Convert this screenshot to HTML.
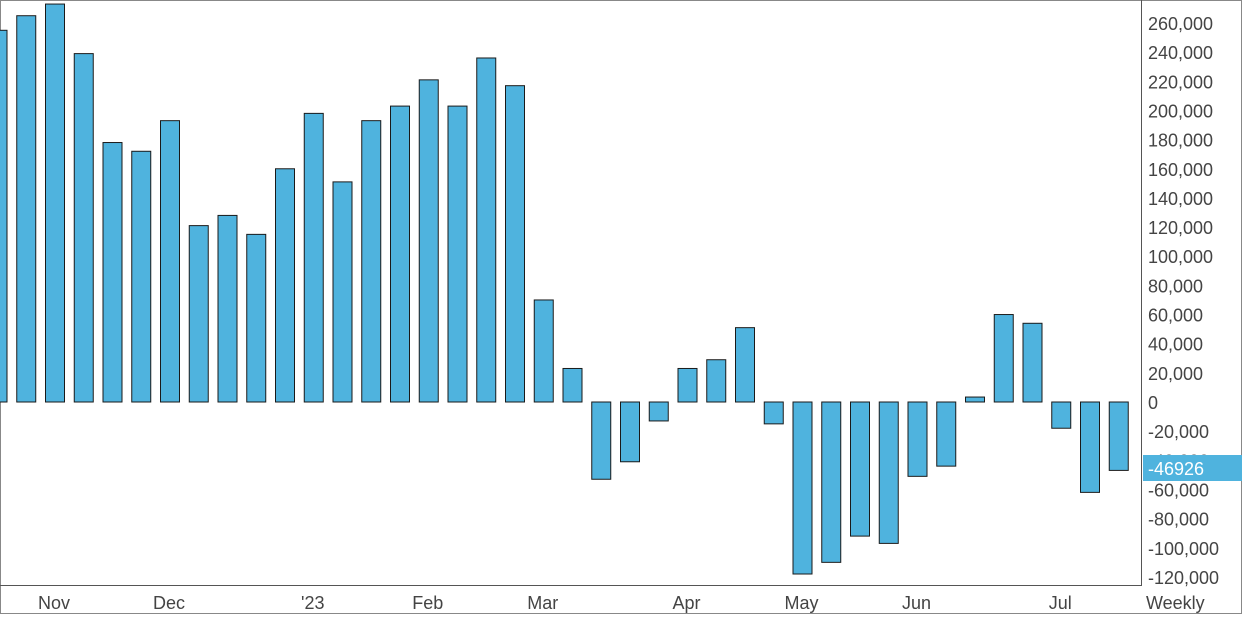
<!DOCTYPE html>
<html><head><meta charset="utf-8"><style>
body{margin:0;background:#fff;font-family:"Liberation Sans",Arial,sans-serif}
svg{display:block}
</style></head><body>
<svg id="chart" width="1242" height="629" xmlns="http://www.w3.org/2000/svg">
<rect x="0.5" y="0.5" width="1241" height="613" fill="#fff" stroke="#888"/>
<g id="bars"></g>
<line x1="1141.5" y1="0" x2="1141.5" y2="586" stroke="#555"/>
<line x1="0" y1="585.5" x2="1141" y2="585.5" stroke="#555"/>
<g id="yticks"></g>
<g id="xticks"></g>
<g>
<rect x="1143" y="455" width="99" height="26" fill="#4fb3de"/>
<text id="lastval" x="1148" y="475" font-size="18" fill="#fff"></text>
</g>
</svg>
<script>
const values=[255000,265000,273000,239000,178000,172000,193000,121000,128000,115000,160000,198000,151000,193000,203000,221000,203000,236000,217000,70000,23000,-53000,-41000,-13000,23000,29000,51000,-15000,-118000,-110000,-92000,-97000,-51000,-44000,3400,60000,54000,-18000,-62000,-46926];
const yTicks=[260000,240000,220000,200000,180000,160000,140000,120000,100000,80000,60000,40000,20000,0,-20000,-40000,-60000,-80000,-100000,-120000];
const monthLabels=["Nov","Dec","'23","Feb","Mar","Apr","May","Jun","Jul"];
const monthIdx=[2,6,11,15,19,24,28,32,37];
const NS="http://www.w3.org/2000/svg";
const y=v=>402-v*(379/260000);
const xc=i=>-2.5+28.75*i;
const bw=19;
const bars=document.getElementById('bars');
values.forEach((v,i)=>{
 const r=document.createElementNS(NS,'rect');
 const y0=y(0),y1=y(v);
 r.setAttribute('x',xc(i)-bw/2);r.setAttribute('width',bw);
 r.setAttribute('y',Math.min(y0,y1));r.setAttribute('height',Math.abs(y1-y0));
 r.setAttribute('fill','#4fb3de');r.setAttribute('stroke','#1a1a1a');r.setAttribute('stroke-width','1');
 
 
 bars.appendChild(r);
});
const yt=document.getElementById('yticks');
yTicks.forEach(t=>{
 const tx=document.createElementNS(NS,'text');
 tx.setAttribute('x',1148);tx.setAttribute('y',y(t)+7);
 tx.setAttribute('font-size','18');tx.setAttribute('fill','#444');
 tx.textContent=t.toLocaleString('en-US');
 
 
 yt.appendChild(tx);
});
const xt=document.getElementById('xticks');
monthLabels.forEach((m,k)=>{
 const tx=document.createElementNS(NS,'text');
 tx.setAttribute('x',xc(monthIdx[k])-1);tx.setAttribute('y',609);
 tx.setAttribute('font-size','18');tx.setAttribute('fill','#444');tx.setAttribute('text-anchor','middle');
 tx.textContent=m;
 
 
 xt.appendChild(tx);
});
const wk=document.createElementNS(NS,'text');
wk.setAttribute('x',1146);wk.setAttribute('y',609);wk.setAttribute('font-size','18');wk.setAttribute('fill','#444');
wk.textContent='Weekly';


xt.appendChild(wk);
document.getElementById('lastval').textContent=String(values[values.length-1]);
</script>
</body></html>
